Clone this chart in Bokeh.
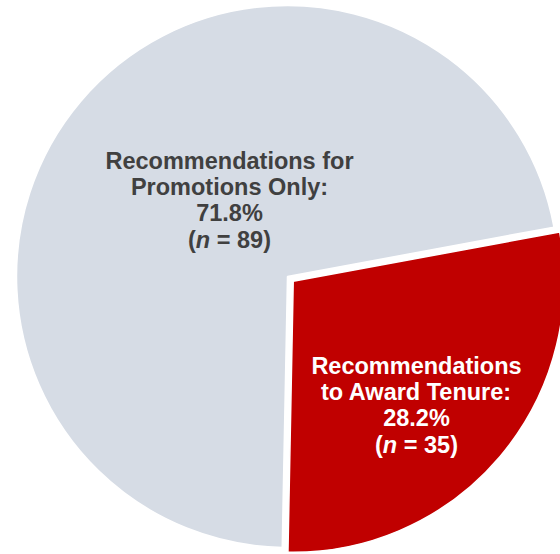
import math
from bokeh.plotting import figure
from bokeh.models import Range1d, ColumnDataSource
from bokeh.core.properties import value
from bokeh.embed import file_html
from bokeh.resources import INLINE

# ---- data ----
categories = ["Recommendations for Promotions Only", "Recommendations to Award Tenure"]
counts = [89, 35]
percents = [71.8, 28.2]
label_lines = [["Recommendations for", "Promotions Only:"],
               ["Recommendations", "to Award Tenure:"]]

# ---- style ----
colors = ["#D6DCE5", "#C00000"]
text_colors = ["#404040", "#FFFFFF"]
explode_px = [0.0, 7.5]
W, H = 560, 554
cx, cy = 287.0, H - 276.0
R = 271.0
start_deg = 10.5
FS = 23.5
font = "Liberation Sans"
label_centers = [(229.0, 160.0), (416.0, 365.0)]  # (x, first baseline from top)
line_step = 26.4

p = figure(width=W, height=H, x_range=Range1d(0, W), y_range=Range1d(0, H),
           output_backend="svg", toolbar_location=None,
           x_axis_type=None, y_axis_type=None, min_border=0,
           outline_line_color=None, background_fill_color="white",
           border_fill_color="white")
p.grid.visible = False

total = sum(counts)
a = math.radians(start_deg)
xs, ys, sa, ea = [], [], [], []
for i, c in enumerate(counts):
    span = 2 * math.pi * c / total
    mid = a + span / 2
    xs.append(cx + explode_px[i] * math.cos(mid))
    ys.append(cy + explode_px[i] * math.sin(mid))
    sa.append(a)
    ea.append(a + span)
    a += span

src = ColumnDataSource(dict(x=xs, y=ys, s=sa, e=ea, c=colors, name=categories))
p.wedge(x="x", y="y", radius=R, start_angle="s", end_angle="e",
        fill_color="c", line_color="white", line_width=1.5, source=src)

# ---- labels ----
em = FS
w_paren = 0.333 * em
w_n = 0.611 * em
w_space = 0.278 * em
for i in range(len(counts)):
    lx, top = label_centers[i]
    lines = label_lines[i] + [f"{percents[i]:.1f}%"]
    for j, t in enumerate(lines):
        p.text(x=[lx], y=[H - (top + j * line_step)], text=[t],
               text_font=value(font), text_font_style="bold",
               text_font_size=f"{FS}px", text_color=text_colors[i],
               text_align="center", text_baseline="alphabetic")
    # (n = XX) line with italic n
    rest = f"= {counts[i]})"
    # widths in Arial/Liberation bold metrics
    digit_w = 0.556
    w_rest = (0.584 + 0.278 + digit_w * len(str(counts[i])) + 0.333) * em
    tot = w_paren + w_n + w_space + w_rest
    x0 = lx - tot / 2
    yb = H - (top + 3 * line_step)
    common = dict(text_font=value(font), text_font_size=f"{FS}px",
                  text_color=text_colors[i], text_baseline="alphabetic",
                  text_align="left")
    p.text(x=[x0], y=[yb], text=["("], text_font_style="bold", **common)
    p.text(x=[x0 + w_paren], y=[yb], text=["n"], text_font_style="bold italic", **common)
    p.text(x=[x0 + w_paren + w_n + w_space], y=[yb], text=[rest],
           text_font_style="bold", **common)

open("out.html", "w").write(file_html(p, INLINE))
